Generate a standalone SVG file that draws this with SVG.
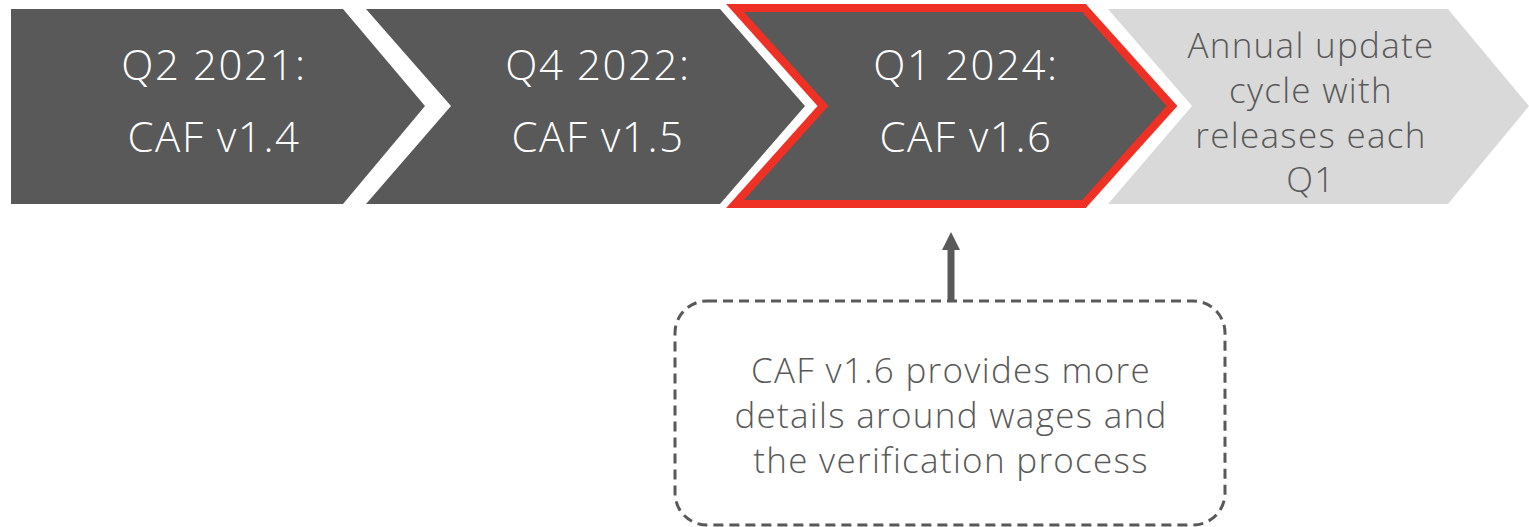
<svg xmlns="http://www.w3.org/2000/svg" width="1529" height="527" viewBox="0 0 1529 527">
  <defs>
    <style>
      .dark { fill: #595959; }
      .light { fill: #d9d9d9; }
      .current { fill: #595959; stroke: #ee3124; stroke-width: 8; stroke-linejoin: miter; }
      .t { font-family: "Open Sans", Lato, sans-serif; font-weight: 300; text-anchor: middle; letter-spacing: 0.037em; }
      .tw { fill: #ffffff; font-size: 42px; }
      .tg { fill: #595959; font-size: 35px; }
      .tc { fill: #595959; font-size: 35px; }
      .callout { fill: none; stroke: #595959; stroke-width: 3; stroke-dasharray: 10 6; }
      .conn { stroke: #595959; stroke-width: 7; fill: none; }
    </style>
    <marker id="ah" markerUnits="userSpaceOnUse" markerWidth="18" markerHeight="18" viewBox="0 0 18 18" refX="2" refY="9" orient="auto">
      <path d="M0,0 L18,9 L0,18 Z" fill="#595959"/>
    </marker>
  </defs>

  <g id="node-q2-2021">
    <polygon class="dark" points="11,9 343,9 425,106 343,204 11,204"/>
    <text class="t tw" x="214" y="80">Q2 2021:</text>
    <text class="t tw" x="214" y="152">CAF v1.4</text>
  </g>

  <g id="node-q4-2022">
    <polygon class="dark" points="366,9 720,9 805,106 720,204 366,204 451,106"/>
    <text class="t tw" x="598" y="80">Q4 2022:</text>
    <text class="t tw" x="598" y="152">CAF v1.5</text>
  </g>

  <g id="node-q1-2024">
    <polygon class="current" points="735,8 1084,8 1172,106 1084,204 735,204 823,106"/>
    <text class="t tw" x="966" y="80">Q1 2024:</text>
    <text class="t tw" x="966" y="152">CAF v1.6</text>
  </g>

  <g id="node-annual">
    <polygon class="light" points="1108,9 1448,9 1529,106 1448,204 1108,204 1192,106"/>
    <text class="t tg" x="1311" y="58">Annual update</text>
    <text class="t tg" x="1311" y="103">cycle with</text>
    <text class="t tg" x="1311" y="148">releases each</text>
    <text class="t tg" x="1311" y="192">Q1</text>
  </g>

  <g id="node-callout">
    <rect class="callout" x="675" y="301" width="550" height="224" rx="32" ry="32"/>
    <text class="t tc" x="951" y="383">CAF v1.6 provides more</text>
    <text class="t tc" x="951" y="428">details around wages and</text>
    <text class="t tc" x="951" y="473">the verification process</text>
  </g>

  <g id="connectors">
    <line class="conn" x1="951" y1="300" x2="951" y2="248" marker-end="url(#ah)"/>
  </g>
</svg>
